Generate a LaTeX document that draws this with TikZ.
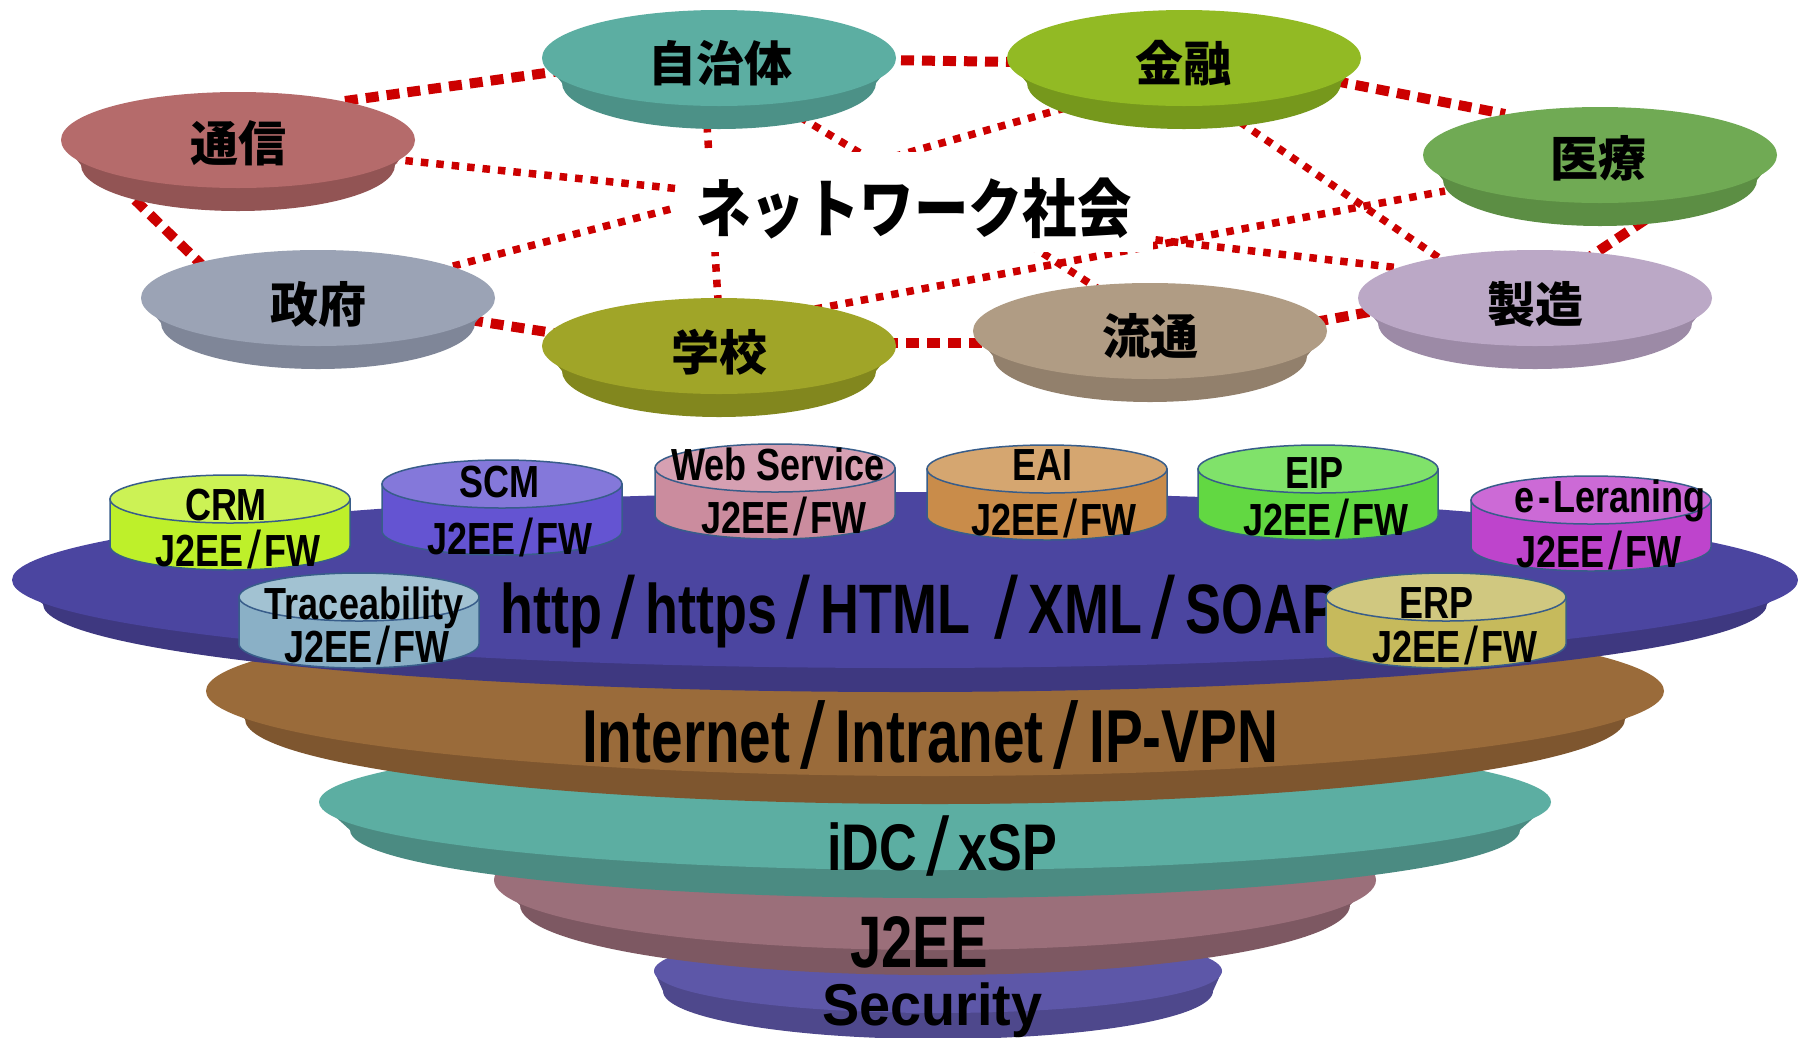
\documentclass[tikz,border=0pt]{standalone}
\usepackage{fontspec}
\IfFontExistsTF{Noto Sans CJK JP Black}
  {\newfontfamily\jp{Noto Sans CJK JP Black}\newcommand\jpw{}}
  {\newfontfamily\jp{Noto Sans CJK JP}\newcommand\jpw{\bfseries}}
\newfontfamily\lib{Liberation Sans}
\definecolor{lred}{RGB}{204,0,0}
\definecolor{cylout}{RGB}{56,93,138}
% disks
\definecolor{tsuT}{RGB}{181,107,107}\definecolor{tsuS}{RGB}{146,84,84}
\definecolor{jicT}{RGB}{92,174,162}\definecolor{jicS}{RGB}{76,145,135}
\definecolor{kinT}{RGB}{146,186,36}\definecolor{kinS}{RGB}{118,152,28}
\definecolor{iryT}{RGB}{112,170,84}\definecolor{iryS}{RGB}{92,142,68}
\definecolor{seiT}{RGB}{155,163,181}\definecolor{seiS}{RGB}{127,134,152}
\definecolor{gakT}{RGB}{160,165,40}\definecolor{gakS}{RGB}{130,135,30}
\definecolor{ryuT}{RGB}{176,156,132}\definecolor{ryuS}{RGB}{146,128,108}
\definecolor{sezT}{RGB}{187,168,198}\definecolor{sezS}{RGB}{156,138,166}
% layers
\definecolor{purT}{RGB}{75,69,160}\definecolor{purS}{RGB}{62,56,128}
\definecolor{broT}{RGB}{154,107,58}\definecolor{broS}{RGB}{126,86,47}
\definecolor{teaT}{RGB}{92,174,162}\definecolor{teaS}{RGB}{75,139,130}
\definecolor{mauT}{RGB}{155,111,122}\definecolor{mauS}{RGB}{125,88,98}
\definecolor{secT}{RGB}{93,87,168}\definecolor{secS}{RGB}{78,72,140}
% cylinders
\definecolor{crmT}{RGB}{204,242,85}\definecolor{crmB}{RGB}{190,240,42}
\definecolor{scmT}{RGB}{132,120,218}\definecolor{scmB}{RGB}{100,84,210}
\definecolor{webT}{RGB}{214,160,178}\definecolor{webB}{RGB}{203,140,158}
\definecolor{eaiT}{RGB}{213,166,112}\definecolor{eaiB}{RGB}{201,140,74}
\definecolor{eipT}{RGB}{128,226,106}\definecolor{eipB}{RGB}{98,216,66}
\definecolor{elT}{RGB}{204,106,214}\definecolor{elB}{RGB}{190,68,204}
\definecolor{trcT}{RGB}{162,194,210}\definecolor{trcB}{RGB}{138,176,198}
\definecolor{erpT}{RGB}{208,200,128}\definecolor{erpB}{RGB}{198,186,92}

\newcommand\frustum[9]{%
  \fill[#9] ({#1-#3},#2) -- ({#1-#6},{#2+#5}) arc[start angle=180,end angle=360,x radius=#6pt,y radius=#7pt] -- ({#1+#3},#2) -- cycle;
  \fill[#8] (#1,#2) ellipse [x radius=#3pt, y radius=#4pt];}
\newcommand\cyl[4]{%
  \filldraw[cylline, fill=#4] ({#1-120},#2) -- ({#1-120},{#2+47}) arc[start angle=180,end angle=360,x radius=120pt,y radius=24pt] -- ({#1+120},#2) -- cycle;
  \filldraw[cylline, fill=#3] (#1,#2) ellipse [x radius=120pt, y radius=24pt];}
\newcommand\slashS{\hspace{0.1em}{\mdseries\raisebox{-0.05em}{\scalebox{1.4}[1.18]{/}}}\hspace{0.1em}}
\newcommand\slashL{\hspace{0.18em}{\mdseries\raisebox{-0.08em}{\scalebox{1.6}[1.25]{/}}}\hspace{0.18em}}

\tikzset{
  thickdash/.style={draw=lred, line width=10pt, dash pattern=on 13pt off 8pt},
  thindash/.style={draw=lred, line width=7.5pt, dash pattern=on 7.5pt off 8pt},
  cylline/.style={draw=cylout, line width=1.5pt},
  jlabel/.style={inner sep=0pt, font=\jp\jpw\fontsize{48}{48}\selectfont},
  cyltext/.style={anchor=base, inner sep=0pt, font=\lib\bfseries\fontsize{45}{45}\selectfont},
  laytext/.style={anchor=base west, inner sep=0pt},
}

\begin{document}
\begin{tikzpicture}[x=1pt,y=-1pt]
\useasboundingbox (0,0) rectangle (1798,1037);
\fill[white] (0,0) rectangle (1798,1037);

% ---------- connector end points ----------
\coordinate (tsuA) at (345,101);  \coordinate (jicA) at (560,71);
\coordinate (tsuB) at (390,159);  \coordinate (boxA) at (690,190);
\coordinate (tsuC) at (135,200);  \coordinate (seiA) at (207,270);
\coordinate (seiB) at (438,270);  \coordinate (boxB) at (690,204);
\coordinate (seiC) at (470,320);  \coordinate (gakA) at (560,334);
\coordinate (jicB) at (707,125);  \coordinate (gakB) at (718,300);
\coordinate (jicC) at (800,117);  \coordinate (boxC) at (875,162);
\coordinate (kinA) at (1065,108);
\coordinate (gakC) at (815,309);  \coordinate (iryA) at (1445,191);
\coordinate (jicD) at (880,60);   \coordinate (kinB) at (1020,62);
\coordinate (kinC) at (1335,81);  \coordinate (iryB) at (1505,114);
\coordinate (kinD) at (1240,122); \coordinate (sezA) at (1448,264);
\coordinate (iryC) at (1645,220); \coordinate (sezB) at (1585,260);
\coordinate (boxD) at (1140,238); \coordinate (sezC) at (1400,268);
\coordinate (boxE) at (1030,245); \coordinate (ryuA) at (1100,290);
\coordinate (ryuB) at (1315,322); \coordinate (sezD) at (1380,310);
\coordinate (gakD) at (885,343);  \coordinate (ryuC) at (990,343);

% ---------- connectors ----------
\draw[thickdash] (tsuA) -- (jicA);
\draw[thindash]  (tsuB) -- (boxA);
\draw[thickdash] (tsuC) -- (seiA);
\draw[thindash]  (seiB) -- (boxB);
\draw[thickdash] (seiC) -- (gakA);
\draw[thindash]  (jicB) -- (gakB);
\draw[thindash]  (jicC) -- (boxC);
\draw[thindash]  (kinA) -- (boxC);
\draw[thindash]  (gakC) -- (iryA);
\draw[thickdash] (jicD) -- (kinB);
\draw[thickdash] (kinC) -- (iryB);
\draw[thindash]  (kinD) -- (sezA);
\draw[thickdash] (iryC) -- (sezB);
\draw[thindash]  (boxD) -- (sezC);
\draw[thindash]  (boxE) -- (ryuA);
\draw[thickdash] (ryuB) -- (sezD);
\draw[thickdash] (gakD) -- (ryuC);

% ---------- title box ----------
\node[fill=white, inner sep=0pt, minimum width=476pt, minimum height=100pt] (netbox) at (915,202) {};
\node[inner sep=0pt, font=\jp\jpw\fontsize{64}{64}\selectfont] (nettext) at (914,208) {\scalebox{0.85}[1]{ネットワーク社会}};

% ---------- disks ----------
\frustum{238}{140}{177}{48}{25}{157}{46}{tsuT}{tsuS}
\node[jlabel] (tsushin) at (238,143) {通信};
\frustum{719}{58}{177}{48}{25}{157}{46}{jicT}{jicS}
\node[jlabel] (jichitai) at (720,63) {自治体};
\frustum{1184}{58}{177}{48}{25}{157}{46}{kinT}{kinS}
\node[jlabel] (kinyu) at (1183,63) {金融};
\frustum{1600}{155}{177}{48}{25}{157}{46}{iryT}{iryS}
\node[jlabel] (iryo) at (1598,158) {医療};
\frustum{318}{298}{177}{48}{25}{157}{46}{seiT}{seiS}
\node[jlabel] (seifu) at (318,304) {政府};
\frustum{719}{346}{177}{48}{25}{157}{46}{gakT}{gakS}
\node[jlabel] (gakko) at (719,352) {学校};
\frustum{1150}{331}{177}{48}{25}{157}{46}{ryuT}{ryuS}
\node[jlabel] (ryutsu) at (1150,336) {流通};
\frustum{1535}{298}{177}{48}{25}{157}{46}{sezT}{sezS}
\node[jlabel] (seizo) at (1535,304) {製造};

% ---------- stacked layers ----------
\frustum{938}{971}{284}{42}{20}{275}{48}{secT}{secS}
\frustum{935}{880}{441}{70}{25}{415}{70}{mauT}{mauS}
\frustum{935}{802}{616}{68}{28}{585}{68}{teaT}{teaS}
\frustum{935}{691}{729}{85}{28}{690}{85}{broT}{broS}
\frustum{905}{580}{893}{88}{24}{862}{88}{purT}{purS}

\node[laytext, font=\lib\bfseries\fontsize{59}{59}\selectfont] (secL) at (822,1025) {\scalebox{0.945}[1]{Security}};
\node[laytext, font=\lib\bfseries\fontsize{73}{73}\selectfont] (j2eeL) at (850,967) {\scalebox{0.77}[1]{J2EE}};
\node[laytext, font=\lib\bfseries\fontsize{66}{66}\selectfont] (idcL) at (827,870) {\scalebox{0.79}[1]{iDC\slashL xSP}};
\node[laytext, font=\lib\bfseries\fontsize{75}{75}\selectfont] (inetL) at (582,762) {\scalebox{0.756}[1]{Internet\slashL Intranet\slashL IP-VPN}};
\node[laytext, font=\lib\bfseries\fontsize{70}{70}\selectfont] (httpL) at (500,633) {\scalebox{0.77}[1]{http\slashL https\slashL HTML \slashL XML\slashL SOAP}};

% ---------- cylinders ----------
\cyl{775}{468}{webT}{webB}
\node[cyltext] (webN) at (778,480) {\scalebox{0.8}[1]{Web Service}};
\node[cyltext] (webF) at (784,533) {\scalebox{0.8}[1]{J2EE\slashS FW}};
\cyl{1047}{469}{eaiT}{eaiB}
\node[cyltext] (eaiN) at (1042,480) {\scalebox{0.8}[1]{EAI}};
\node[cyltext] (eaiF) at (1054,535) {\scalebox{0.8}[1]{J2EE\slashS FW}};
\cyl{1318}{469}{eipT}{eipB}
\node[cyltext] (eipN) at (1314,488) {\scalebox{0.8}[1]{EIP}};
\node[cyltext] (eipF) at (1326,535) {\scalebox{0.8}[1]{J2EE\slashS FW}};
\cyl{502}{484}{scmT}{scmB}
\node[cyltext] (scmN) at (499,497) {\scalebox{0.8}[1]{SCM}};
\node[cyltext] (scmF) at (510,554) {\scalebox{0.8}[1]{J2EE\slashS FW}};
\cyl{230}{499}{crmT}{crmB}
\node[cyltext] (crmN) at (226,520) {\scalebox{0.8}[1]{CRM}};
\node[cyltext] (crmF) at (238,566) {\scalebox{0.8}[1]{J2EE\slashS FW}};
\cyl{1591}{500}{elT}{elB}
\node[cyltext] (elN) at (1610,512) {\scalebox{0.8}[1]{e\hspace{0.1em}-\hspace{0.1em}Leraning}};
\node[cyltext] (elF) at (1599,567) {\scalebox{0.8}[1]{J2EE\slashS FW}};
\cyl{359}{597}{trcT}{trcB}
\node[cyltext] (trcN) at (364,619) {\scalebox{0.8}[1]{Traceability}};
\node[cyltext] (trcF) at (367,662) {\scalebox{0.8}[1]{J2EE\slashS FW}};
\cyl{1446}{597}{erpT}{erpB}
\node[cyltext] (erpN) at (1436,618) {\scalebox{0.8}[1]{ERP}};
\node[cyltext] (erpF) at (1455,662) {\scalebox{0.8}[1]{J2EE\slashS FW}};
\end{tikzpicture}
\end{document}
